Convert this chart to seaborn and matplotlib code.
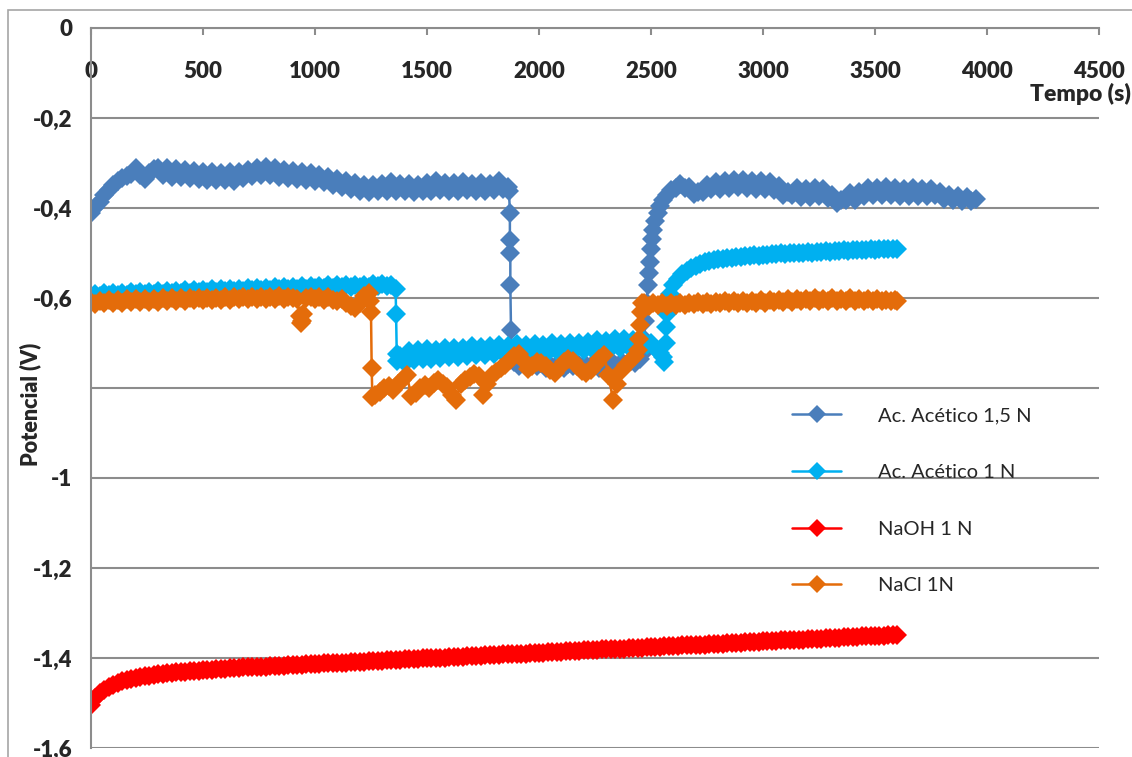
import matplotlib
matplotlib.use("Agg")
import matplotlib.pyplot as plt
import seaborn as sns
from matplotlib.patches import Rectangle

# ---------------- data ----------------
series_names = ["Ac. Acético 1,5 N", "Ac. Acético 1 N", "NaOH 1 N", "NaCl 1N"]
series_colors = ["#4A7EBB", "#00B0F0", "#FF0000", "#E46C0A"]

# Ac. Acético 1,5 N : time (s)
t_ac15 = (list(range(0, 1861, 20))
          + [1866, 1870, 1870, 1872, 1872, 1875, 1878]
          + list(range(1890, 2451, 20))
          + [2460, 2470, 2475, 2480, 2485, 2490, 2495, 2500, 2505, 2510, 2520, 2530, 2540, 2555]
          + list(range(2570, 3951, 20)))
v_ac15 = [-0.412, -0.398, -0.386, -0.372, -0.360, -0.348, -0.340, -0.333, -0.329, -0.324,
          -0.312, -0.326, -0.336, -0.322, -0.314, -0.310, -0.326, -0.312, -0.330, -0.314,
          -0.332, -0.316, -0.334, -0.318, -0.336, -0.320, -0.337, -0.320, -0.338, -0.322,
          -0.337, -0.320, -0.340, -0.320, -0.334, -0.316, -0.328, -0.311, -0.326, -0.308,
          -0.326, -0.310, -0.331, -0.316, -0.334, -0.318, -0.336, -0.320, -0.337, -0.322,
          -0.339, -0.326, -0.343, -0.331, -0.348, -0.336, -0.353, -0.341, -0.357, -0.345,
          -0.362, -0.348, -0.364, -0.349, -0.363, -0.347, -0.362, -0.343, -0.362, -0.346,
          -0.363, -0.347, -0.364, -0.348, -0.363, -0.344, -0.362, -0.341, -0.361, -0.345,
          -0.362, -0.345, -0.362, -0.342, -0.361, -0.346, -0.363, -0.345, -0.362, -0.346,
          -0.361, -0.341, -0.357, -0.354,
          -0.362, -0.410, -0.470, -0.500, -0.570, -0.670, -0.735,
          -0.742, -0.752, -0.744, -0.755, -0.746, -0.752, -0.744, -0.756, -0.748, -0.753,
          -0.744, -0.755, -0.746, -0.752, -0.744, -0.754, -0.748, -0.751, -0.743, -0.755,
          -0.747, -0.752, -0.745, -0.750, -0.742, -0.748, -0.740, -0.744, -0.735,
          -0.725, -0.690, -0.650, -0.610, -0.570, -0.545, -0.520, -0.490, -0.468, -0.448,
          -0.428, -0.410, -0.396, -0.382,
          -0.370, -0.360, -0.356, -0.346, -0.356, -0.354, -0.368, -0.364, -0.364, -0.348,
          -0.358, -0.342, -0.358, -0.340, -0.356, -0.338, -0.354, -0.337, -0.355, -0.339,
          -0.358, -0.341, -0.358, -0.342, -0.360, -0.352, -0.370, -0.364, -0.372, -0.356,
          -0.376, -0.358, -0.375, -0.356, -0.374, -0.357, -0.377, -0.370, -0.388, -0.382,
          -0.382, -0.366, -0.383, -0.364, -0.373, -0.356, -0.372, -0.355, -0.372, -0.354,
          -0.372, -0.356, -0.374, -0.357, -0.373, -0.356, -0.374, -0.357, -0.373, -0.358,
          -0.372, -0.364, -0.380, -0.372, -0.382, -0.374, -0.384, -0.376, -0.385, -0.380]

# Ac. Acético 1 N
t_ac1 = (list(range(0, 1361, 20))
         + [1362, 1365, 1368]
         + list(range(1380, 2541, 20))
         + [2552, 2560, 2566, 2569, 2572, 2577, 2585]
         + list(range(2600, 3601, 20)))
v_ac1 = [-0.596, -0.590, -0.595, -0.589, -0.594, -0.589, -0.593, -0.588, -0.593, -0.587,
         -0.592, -0.586, -0.591, -0.586, -0.590, -0.585, -0.590, -0.584, -0.589, -0.584,
         -0.588, -0.583, -0.588, -0.582, -0.587, -0.582, -0.586, -0.581, -0.586, -0.580,
         -0.585, -0.580, -0.584, -0.579, -0.584, -0.578, -0.583, -0.578, -0.582, -0.577,
         -0.582, -0.576, -0.581, -0.576, -0.580, -0.575, -0.580, -0.574, -0.579, -0.574,
         -0.578, -0.573, -0.578, -0.572, -0.577, -0.572, -0.576, -0.571, -0.576, -0.570,
         -0.575, -0.570, -0.575, -0.569, -0.574, -0.569, -0.574, -0.570, -0.580,
         -0.635, -0.725, -0.740,
         -0.728, -0.745, -0.718, -0.738, -0.716, -0.736, -0.714, -0.735, -0.716, -0.733,
         -0.712, -0.731, -0.710, -0.730, -0.711, -0.728, -0.706, -0.727, -0.709, -0.726,
         -0.706, -0.724, -0.704, -0.723, -0.707, -0.722, -0.702, -0.722, -0.704, -0.720,
         -0.702, -0.720, -0.705, -0.719, -0.700, -0.718, -0.702, -0.717, -0.699, -0.716,
         -0.700, -0.716, -0.697, -0.715, -0.694, -0.714, -0.696, -0.712, -0.692, -0.711,
         -0.690, -0.708, -0.694, -0.706, -0.692, -0.704, -0.700, -0.712, -0.722,
         -0.732, -0.742, -0.700, -0.665, -0.635, -0.610, -0.590,
         -0.572, -0.558, -0.547, -0.539, -0.533, -0.528, -0.524, -0.521, -0.518, -0.516,
         -0.514, -0.513, -0.511, -0.511, -0.509, -0.509, -0.507, -0.507, -0.505, -0.506,
         -0.504, -0.504, -0.502, -0.503, -0.501, -0.502, -0.500, -0.501, -0.499, -0.500,
         -0.498, -0.499, -0.497, -0.498, -0.496, -0.497, -0.495, -0.496, -0.494, -0.495,
         -0.494, -0.494, -0.493, -0.493, -0.492, -0.493, -0.491, -0.492, -0.490, -0.491,
         -0.490]

# NaOH 1 N
t_naoh = list(range(0, 3601, 20))
v_naoh = [-1.505, -1.489, -1.478, -1.470, -1.464, -1.459, -1.455, -1.452, -1.449, -1.446,
          -1.444, -1.442, -1.440, -1.439, -1.437, -1.436, -1.435, -1.434, -1.433, -1.432,
          -1.431, -1.430, -1.429, -1.428, -1.428, -1.427, -1.426, -1.426, -1.425, -1.424,
          -1.424, -1.423, -1.423, -1.422, -1.421, -1.421, -1.420, -1.420, -1.419, -1.419,
          -1.418, -1.418, -1.417, -1.417, -1.416, -1.416, -1.415, -1.415, -1.414, -1.414,
          -1.413, -1.413, -1.412, -1.412, -1.411, -1.411, -1.410, -1.410, -1.409, -1.409,
          -1.408, -1.408, -1.407, -1.407, -1.406, -1.406, -1.405, -1.405, -1.404, -1.404,
          -1.403, -1.403, -1.402, -1.402, -1.401, -1.401, -1.400, -1.400, -1.399, -1.399,
          -1.398, -1.398, -1.397, -1.397, -1.396, -1.396, -1.395, -1.395, -1.394, -1.394,
          -1.393, -1.393, -1.392, -1.392, -1.391, -1.391, -1.390, -1.390, -1.389, -1.389,
          -1.388, -1.388, -1.387, -1.387, -1.386, -1.386, -1.385, -1.385, -1.384, -1.384,
          -1.383, -1.383, -1.382, -1.382, -1.381, -1.381, -1.380, -1.380, -1.379, -1.379,
          -1.378, -1.378, -1.377, -1.377, -1.376, -1.376, -1.375, -1.375, -1.374, -1.374,
          -1.373, -1.373, -1.372, -1.372, -1.371, -1.371, -1.370, -1.370, -1.369, -1.369,
          -1.368, -1.368, -1.367, -1.367, -1.366, -1.366, -1.365, -1.365, -1.364, -1.364,
          -1.363, -1.363, -1.362, -1.362, -1.361, -1.361, -1.360, -1.360, -1.359, -1.359,
          -1.358, -1.358, -1.357, -1.357, -1.356, -1.356, -1.355, -1.355, -1.354, -1.354,
          -1.353, -1.353, -1.352, -1.352, -1.351, -1.351, -1.350, -1.350, -1.349, -1.349,
          -1.348]

# NaCl 1N
t_nacl = (list(range(0, 921, 20))
          + [932, 937, 942, 947]
          + list(range(960, 1241, 20))
          + [1246, 1250, 1253, 1256]
          + list(range(1270, 2431, 20))
          + [2442, 2448, 2452, 2455, 2458]
          + list(range(2470, 3591, 20))
          + [3600])
v_nacl = [-0.608, -0.613, -0.606, -0.612, -0.605, -0.611, -0.604, -0.610, -0.603, -0.609,
          -0.603, -0.609, -0.602, -0.608, -0.602, -0.608, -0.601, -0.607, -0.601, -0.606,
          -0.600, -0.606, -0.600, -0.605, -0.600, -0.605, -0.599, -0.604, -0.599, -0.604,
          -0.598, -0.604, -0.598, -0.603, -0.597, -0.603, -0.597, -0.603, -0.597, -0.602,
          -0.597, -0.602, -0.596, -0.602, -0.597, -0.601, -0.603,
          -0.640, -0.656, -0.652, -0.636,
          -0.600, -0.597, -0.603, -0.597, -0.604, -0.598, -0.605, -0.606, -0.603, -0.612,
          -0.618, -0.622, -0.610, -0.595, -0.588,
          -0.606, -0.632, -0.755, -0.820,
          -0.815, -0.808, -0.800, -0.795, -0.805, -0.790, -0.782, -0.772, -0.818, -0.810,
          -0.800, -0.793, -0.800, -0.788, -0.782, -0.790, -0.798, -0.815, -0.826, -0.790,
          -0.782, -0.776, -0.768, -0.774, -0.816, -0.790, -0.770, -0.764, -0.756, -0.748,
          -0.738, -0.728, -0.724, -0.738, -0.758, -0.752, -0.742, -0.745, -0.752, -0.760,
          -0.766, -0.755, -0.742, -0.735, -0.740, -0.752, -0.762, -0.766, -0.760, -0.748,
          -0.735, -0.726, -0.770, -0.826, -0.790, -0.760, -0.748, -0.738, -0.728,
          -0.715, -0.690, -0.660, -0.630, -0.612,
          -0.612, -0.617, -0.611, -0.616, -0.611, -0.617, -0.612, -0.615, -0.610, -0.615,
          -0.610, -0.614, -0.609, -0.613, -0.609, -0.613, -0.608, -0.612, -0.607, -0.612,
          -0.607, -0.611, -0.606, -0.611, -0.606, -0.610, -0.605, -0.610, -0.604, -0.609,
          -0.604, -0.608, -0.603, -0.608, -0.602, -0.607, -0.602, -0.607, -0.601, -0.606,
          -0.602, -0.606, -0.601, -0.606, -0.602, -0.607, -0.601, -0.606, -0.602, -0.606,
          -0.603, -0.607, -0.603, -0.607, -0.604, -0.607, -0.605,
          -0.606]

x_ticks = [0, 500, 1000, 1500, 2000, 2500, 3000, 3500, 4000, 4500]
y_ticks = [0, -0.2, -0.4, -0.6, -0.8, -1.0, -1.2, -1.4, -1.6]
# the "-0,8" label is hidden under the axis title in the reference
y_tick_labels = ["0", "-0,2", "-0,4", "-0,6", "", "-1", "-1,2", "-1,4", "-1,6"]
x_label = "Tempo (s)"
y_label = "Potencial (V)"

# ---------------- figure ----------------
sns.set_style("white")
plt.rcParams["font.family"] = ["Lato", "DejaVu Sans"]

W, H = 1132, 757
fig = plt.figure(figsize=(W / 100, H / 100), dpi=100)
ax = fig.add_axes([91 / W, 1 - 748 / H, (1099 - 91) / W, (748 - 28) / H])
grid_c = "#8C8C8C"

all_t = [t_ac15, t_ac1, t_naoh, t_nacl]
all_v = [v_ac15, v_ac1, v_naoh, v_nacl]
for name, t, v, c in zip(series_names, all_t, all_v, series_colors):
    sns.lineplot(x=t, y=v, ax=ax, color=c, marker="D", markersize=10,
                 markeredgewidth=0, linewidth=1.8, sort=False,
                 estimator=None, label=name)

ax.set_xlim(0, 4500)
ax.set_ylim(-1.6, 0)
ax.set_axisbelow(True)
ax.yaxis.grid(True, color=grid_c, linewidth=1.5)
ax.xaxis.grid(False)
for s in ["bottom", "right"]:
    ax.spines[s].set_visible(False)
for s in ["top", "left"]:
    ax.spines[s].set_visible(True)
    ax.spines[s].set_color(grid_c)
    ax.spines[s].set_linewidth(1.5)

ax.xaxis.set_ticks_position("top")
ax.set_xticks(x_ticks, labels=[str(x) for x in x_ticks], fontweight="heavy", fontsize=16)
ax.set_yticks(y_ticks, labels=y_tick_labels, fontweight="heavy", fontsize=16)
ax.tick_params(axis="x", direction="in", length=5, width=1.5, color=grid_c, pad=-39)
ax.tick_params(axis="y", direction="out", length=6.5, width=1.5, color=grid_c, pad=7)
ax.set_xlabel("")
ax.set_ylabel("")

fig.text(1131 / W, 1 - 94 / H, x_label, ha="right", va="center",
         fontweight="heavy", fontsize=16.5)
fig.text(30 / W, 1 - 404 / H, y_label, rotation=90, ha="center", va="center",
         fontweight="heavy", fontsize=15.5, zorder=5)

# chart-area border
fig.add_artist(Rectangle((8 / W, -0.5), 2.0, 1.5 - 10 / H, transform=fig.transFigure,
                         fill=False, edgecolor="#A6A6A6", linewidth=1.2, zorder=6))

ax.legend(loc="upper left", bbox_to_anchor=(792 / W, 1 - 407 / H),
          bbox_transform=fig.transFigure, frameon=False, fontsize=14.5,
          handlelength=2.45, handletextpad=1.8, labelspacing=1.97,
          borderpad=0, borderaxespad=0, markerscale=0.95)

fig.savefig("out.png", dpi=100)
